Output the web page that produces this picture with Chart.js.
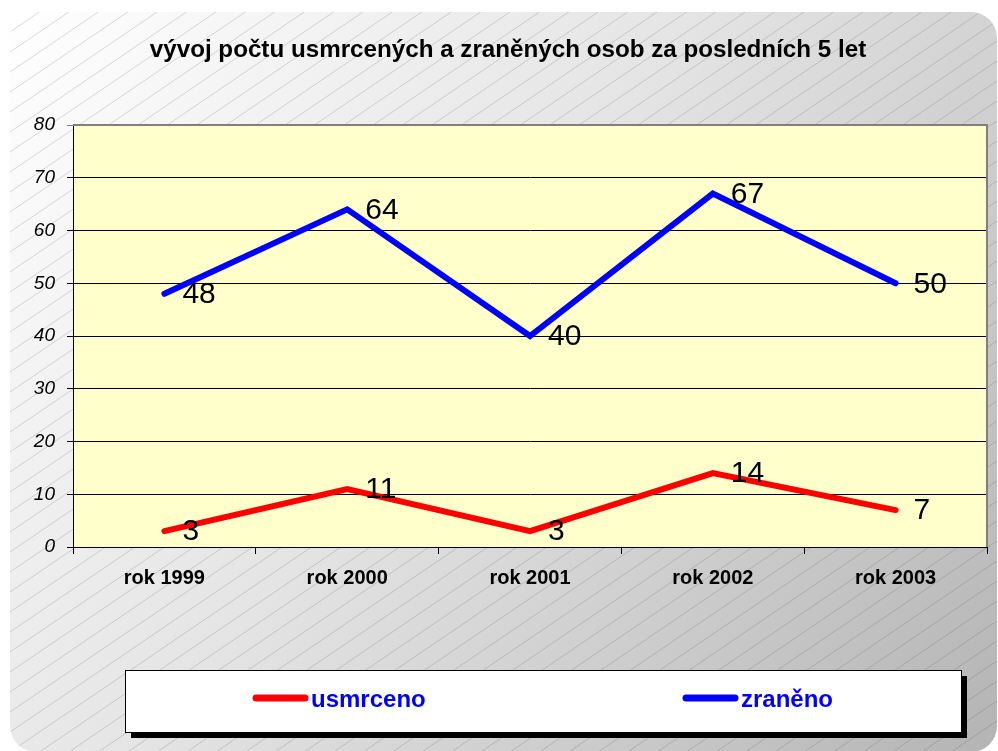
<!DOCTYPE html>
<html>
<head>
<meta charset="utf-8">
<script src="https://cdn.jsdelivr.net/npm/chart.js@4/dist/chart.umd.min.js"></script>
<style>
  html, body { margin: 0; padding: 0; background: #fff; }
  #wrap { width: 998px; height: 751px; }
</style>
</head>
<body>
<div id="wrap"><canvas id="accidents-chart" width="998" height="751"></canvas></div>
<script>
// data
const years = ['rok 1999', 'rok 2000', 'rok 2001', 'rok 2002', 'rok 2003'];
const killed = [3, 11, 3, 14, 7];
const injured = [48, 64, 40, 67, 50];
const y_ticks = [0, 10, 20, 30, 40, 50, 60, 70, 80];
const chart_title = 'vývoj počtu usmrcených a zraněných osob za posledních 5 let';

const FONT = '"Liberation Sans", Arial, sans-serif';

// hatched, shaded frame behind everything
const framePlugin = {
  id: 'frame',
  beforeDraw(chart) {
    const ctx = chart.ctx;
    const x0 = 10, y0 = 12, x1 = 997, y1 = 752, r = 26;
    ctx.save();
    ctx.beginPath();
    ctx.roundRect(x0, y0, x1 - x0, y1 - y0, r);
    ctx.save();
    ctx.clip();
    let g = ctx.createLinearGradient(x0, y0, x1, y1);
    g.addColorStop(0, '#ffffff');
    g.addColorStop(0.45, '#e4e4e4');
    g.addColorStop(1, '#b4b4b4');
    ctx.fillStyle = g;
    ctx.fillRect(x0, y0, x1 - x0, y1 - y0);
    // diagonal hatch
    ctx.strokeStyle = 'rgba(70,70,70,0.28)';
    ctx.lineWidth = 0.7;
    const k = 0.68;
    const h = y1 - y0;
    for (let x = x0 - h / k; x < x1 + 40; x += 20 / k) {
      ctx.beginPath();
      ctx.moveTo(x, y1);
      ctx.lineTo(x + h / k, y0);
      ctx.stroke();
    }
    ctx.restore();
    ctx.strokeStyle = '#222';
    ctx.lineWidth = 1.5;
    ctx.stroke();
    ctx.restore();

    // title
    ctx.save();
    ctx.font = 'bold 24.2px ' + FONT;
    ctx.fillStyle = '#000';
    ctx.textAlign = 'center';
    ctx.textBaseline = 'alphabetic';
    ctx.fillText(chart_title, 508, 57);
    ctx.restore();

    // plot area fill
    const a = chart.chartArea;
    ctx.save();
    ctx.fillStyle = '#ffffcc';
    ctx.fillRect(a.left, a.top, a.right - a.left, a.bottom - a.top);
    ctx.restore();
  },
  beforeDatasetsDraw(chart) {
    const ctx = chart.ctx, a = chart.chartArea;
    ctx.save();
    ctx.strokeStyle = '#808080';
    ctx.lineWidth = 2;
    ctx.beginPath();
    ctx.moveTo(a.left, a.top);
    ctx.lineTo(a.right, a.top);
    ctx.lineTo(a.right, a.bottom);
    ctx.stroke();
    ctx.restore();
  }
};

// value labels next to each point
const valueLabels = {
  id: 'valueLabels',
  afterDatasetsDraw(chart) {
    const ctx = chart.ctx;
    ctx.save();
    ctx.font = '30px ' + FONT;
    ctx.fillStyle = '#000';
    ctx.textAlign = 'left';
    ctx.textBaseline = 'middle';
    chart.data.datasets.forEach((ds, i) => {
      chart.getDatasetMeta(i).data.forEach((pt, j) => {
        ctx.fillText(String(ds.data[j]), pt.x + 18, pt.y + 1);
      });
    });
    ctx.restore();
  }
};

// boxed legend with a drop shadow
const boxLegend = {
  id: 'boxLegend',
  afterDraw(chart) {
    const ctx = chart.ctx;
    const bx = 125, by = 670, bw = 836, bh = 62;
    ctx.save();
    ctx.fillStyle = '#000';
    ctx.fillRect(bx + 6, by + 6, bw, bh);
    ctx.fillStyle = '#fff';
    ctx.fillRect(bx, by, bw, bh);
    ctx.strokeStyle = '#000';
    ctx.lineWidth = 1;
    ctx.strokeRect(bx + 0.5, by + 0.5, bw, bh);

    const items = [
      { x: 253, ds: chart.data.datasets[0] },
      { x: 683, ds: chart.data.datasets[1] }
    ];
    ctx.lineCap = 'round';
    ctx.lineWidth = 7;
    ctx.font = 'bold 24px ' + FONT;
    ctx.textBaseline = 'middle';
    items.forEach((it) => {
      ctx.strokeStyle = it.ds.borderColor;
      ctx.beginPath();
      ctx.moveTo(it.x + 3, 698);
      ctx.lineTo(it.x + 52, 698);
      ctx.stroke();
      ctx.fillStyle = '#0000ff';
      ctx.fillText(it.ds.label, it.x + 58, 700);
    });
    ctx.restore();
  }
};

const ctx = document.getElementById('accidents-chart').getContext('2d');
const chart = new Chart(ctx, {
  type: 'line',
  data: {
    labels: years,
    datasets: [
      { label: 'usmrceno', data: killed, borderColor: '#ff0000', backgroundColor: '#ff0000' },
      { label: 'zraněno', data: injured, borderColor: '#0000ff', backgroundColor: '#0000ff' }
    ]
  },
  options: {
    responsive: false,
    animation: false,
    layout: { padding: { left: 0, right: 11, top: 125, bottom: 144 } },
    elements: {
      line: { borderWidth: 6, tension: 0, borderCapStyle: 'round', borderJoinStyle: 'miter' },
      point: { radius: 0, hoverRadius: 0 }
    },
    plugins: {
      legend: { display: false },
      tooltip: { enabled: false },
      title: { display: false }
    },
    scales: {
      x: {
        offset: true,
        grid: { offset: true, drawOnChartArea: false, tickLength: 7, color: '#000' },
        border: { color: '#000', width: 1 },
        ticks: { color: '#000', padding: 12, maxRotation: 0, font: { family: FONT, size: 20, weight: 'bold' } },
        afterFit: (s) => { s.height = 60; }
      },
      y: {
        min: 0,
        max: 80,
        afterBuildTicks: (s) => { s.ticks = y_ticks.map((v) => ({ value: v })); },
        grid: {
          tickLength: 6,
          color: (c) => (c.tick && c.tick.value === 80 ? '#808080' : '#000')
        },
        border: { color: '#000', width: 1 },
        ticks: { color: '#000', padding: 12, font: { family: FONT, size: 19, style: 'italic' } },
        afterFit: (s) => { s.width = 73; }
      }
    }
  },
  plugins: [framePlugin, valueLabels, boxLegend]
});
</script>
</body>
</html>
